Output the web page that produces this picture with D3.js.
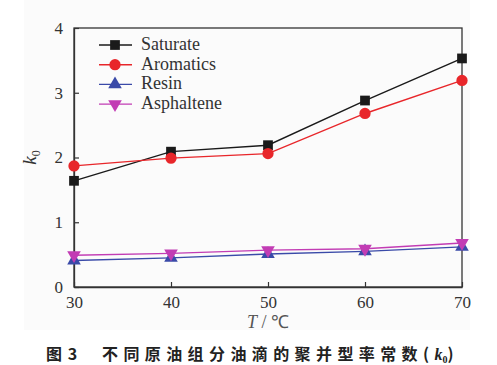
<!DOCTYPE html>
<html><head><meta charset="utf-8">
<script src="https://cdn.jsdelivr.net/npm/d3@7"></script>
<style>body{margin:0;background:#fff}</style>
</head><body>
<script>
const temps = [30, 40, 50, 60, 70];
const saturate = [1.64, 2.09, 2.19, 2.88, 3.53];
const aromatics = [1.87, 1.99, 2.06, 2.68, 3.19];
const resin = [0.41, 0.45, 0.51, 0.55, 0.62];
const asphaltene = [0.49, 0.52, 0.57, 0.59, 0.68];
const seriesNames = ["Saturate", "Aromatics", "Resin", "Asphaltene"];
const xTicks = [30, 40, 50, 60, 70];
const yTicks = [0, 1, 2, 3, 4];

const SERIF = "Liberation Serif";
const W = 497, H = 365;
const m = {l: 74, r: 35, t: 28, b: 78};
const svg = d3.select("body").append("svg").attr("width", W).attr("height", H);
svg.append("rect").attr("x", 24).attr("y", 0).attr("width", 446).attr("height", 330).attr("fill", "#fbfbfb");

const x = d3.scaleLinear().domain([30, 70]).range([m.l, W - m.r]);
const y = d3.scaleLinear().domain([0, 4]).range([H - m.b, m.t]);

// frame
svg.append("rect").attr("x", x(30)).attr("y", y(4)).attr("width", x(70) - x(30)).attr("height", y(0) - y(4))
  .attr("fill", "none").attr("stroke", "#333").attr("stroke-width", 1.3);

const xa = svg.append("g").attr("transform", `translate(0,${y(0)})`)
  .call(d3.axisBottom(x).tickValues(xTicks).tickSizeInner(-5).tickSizeOuter(0).tickPadding(9).tickFormat(d3.format("d")));
const ya = svg.append("g").attr("transform", `translate(${x(30)},0)`)
  .call(d3.axisLeft(y).tickValues(yTicks).tickSizeInner(-5).tickSizeOuter(0).tickPadding(11).tickFormat(d3.format("d")));
[xa, ya].forEach(a => {
  a.attr("font-family", null);
  a.select(".domain").attr("stroke", "#333").attr("stroke-width", 1.3);
  a.selectAll(".tick line").attr("stroke", "#333").attr("stroke-width", 1.2);
  a.selectAll("text").style("font-family", SERIF).attr("font-size", 17).attr("fill", "#333");
});

const data = [saturate, aromatics, resin, asphaltene];
const colors = ["#1a1a1a", "#e8262a", "#3a4aa8", "#c23cb4"];
const shapes = [d3.symbolSquare, d3.symbolCircle, d3.symbolTriangle, d3.symbolTriangle];
const sizes = [95, 100, 80, 80];
const rot = [0, 0, 0, 180];

const line = d3.line().x((d, i) => x(temps[i])).y(d => y(d));
data.forEach((vals, k) => {
  svg.append("path").datum(vals).attr("d", line).attr("fill", "none").attr("stroke", colors[k]).attr("stroke-width", 1.4);
  svg.selectAll(null).data(vals).enter().append("path")
    .attr("d", d3.symbol().type(shapes[k]).size(sizes[k]))
    .attr("transform", (d, i) => `translate(${x(temps[i])},${y(d)}) rotate(${rot[k]})`)
    .attr("fill", colors[k]);
});

// legend
const lg = svg.append("g");
seriesNames.forEach((n, k) => {
  const yy = 45 + k * 19.7;
  lg.append("line").attr("x1", 99).attr("x2", 132).attr("y1", yy).attr("y2", yy).attr("stroke", colors[k]).attr("stroke-width", 1.4);
  lg.append("path").attr("d", d3.symbol().type(shapes[k]).size(sizes[k])())
    .attr("transform", `translate(115,${yy}) rotate(${rot[k]})`).attr("fill", colors[k]);
  lg.append("text").attr("x", 141).attr("y", yy + 5).text(n)
    .style("font-family", SERIF).attr("font-size", 18).attr("fill", "#333");
});

// axis labels
const yl = svg.append("text").attr("transform", `translate(36,${(y(0)+y(4))/2}) rotate(-90)`)
  .attr("text-anchor", "middle").style("font-family", SERIF).attr("font-size", 19).attr("fill", "#333");
yl.append("tspan").attr("font-style", "italic").text("k");
yl.append("tspan").attr("font-size", 12).attr("dy", 4).text("0");

const xl = svg.append("text").attr("x", 268).attr("y", 328).attr("text-anchor", "middle")
  .style("font-family", SERIF).attr("font-size", 18).attr("fill", "#555");
xl.append("tspan").attr("font-style", "italic").text("T");
xl.append("tspan").text(" / ℃");

// caption
const cap = svg.append("text").attr("x", 46).attr("y", 360).style("font-family", "Noto Sans CJK SC")
  .attr("font-size", 16).attr("font-weight", "bold").attr("fill", "#222");
cap.append("tspan").attr("letter-spacing", 1).text("图 3");
cap.append("tspan").attr("x", 102).attr("letter-spacing", 5.4).text("不同原油组分油滴的聚并型率常数(");
cap.append("tspan").style("font-family", SERIF).attr("font-style", "italic").attr("font-weight", "bold").text("k");
cap.append("tspan").style("font-family", SERIF).attr("font-size", 10).attr("dy", 3).text("0");
cap.append("tspan").attr("dy", -3).text(")");
</script>
</body></html>
